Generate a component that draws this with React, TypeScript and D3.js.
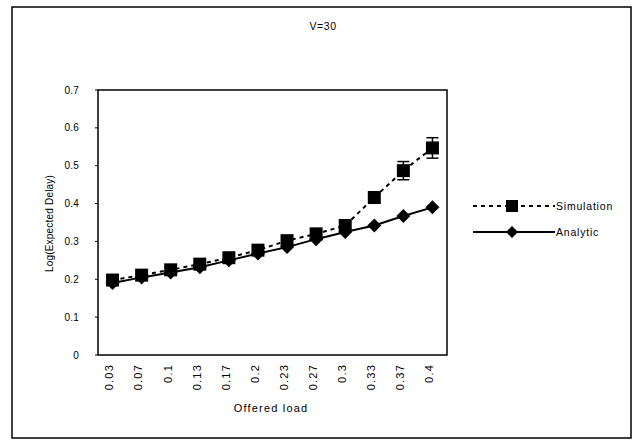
import React from "react";
import * as d3 from "d3";

const categories = ["0.03", "0.07", "0.1", "0.13", "0.17", "0.2", "0.23", "0.27", "0.3", "0.33", "0.37", "0.4"];
const simulation = [0.198, 0.211, 0.225, 0.24, 0.257, 0.277, 0.302, 0.32, 0.342, 0.416, 0.487, 0.547];
const simulationErr = [0.005, 0.005, 0.005, 0.006, 0.006, 0.007, 0.008, 0.008, 0.01, 0.015, 0.024, 0.027];
const analytic = [0.19, 0.205, 0.218, 0.232, 0.25, 0.268, 0.285, 0.306, 0.325, 0.342, 0.367, 0.39];
const yTicks = [0, 0.1, 0.2, 0.3, 0.4, 0.5, 0.6, 0.7];

const W = 636, H = 444;
const plot = { left: 98, right: 447, top: 90, bottom: 355 };
const FONT = "'Liberation Sans', Arial, sans-serif";

export default function App() {
  const x = d3.scaleBand<string>().domain(categories).range([plot.left, plot.right]);
  const y = d3.scaleLinear().domain([0, 0.7]).range([plot.bottom, plot.top]);
  const cx = (c: string) => (x(c) as number) + x.bandwidth() / 2;
  const line = d3.line<number>().x((_, i) => cx(categories[i])).y((d) => y(d));
  const sq = 13;
  const dm = 7;
  const diamond = (px: number, py: number) =>
    `M${px},${py - dm}L${px + dm},${py}L${px},${py + dm}L${px - dm},${py}Z`;

  return (
    <svg width={W} height={H} style={{ position: "absolute", left: 0, top: 0, background: "#fff" }} fontFamily={FONT}>
      <rect x={0} y={0} width={W} height={H} fill="#fff" />
      <rect x={12} y={7} width={619} height={431} fill="none" stroke="#000" strokeWidth={1.5} />
      <text x={323} y={30} textAnchor="middle" fontSize={10.5} letterSpacing={0.6}>V=30</text>

      {/* plot frame */}
      <rect x={plot.left} y={plot.top} width={plot.right - plot.left} height={plot.bottom - plot.top} fill="none" stroke="#000" strokeWidth={1.5} />

      {/* y ticks */}
      {yTicks.map((t) => (
        <g key={t}>
          <line x1={plot.left - 3} x2={plot.left} y1={y(t)} y2={y(t)} stroke="#000" strokeWidth={1} />
          <text x={79} y={y(t)} dy="0.35em" textAnchor="end" fontSize={10} letterSpacing={0.2}>{t === 0 ? "0" : String(t)}</text>
        </g>
      ))}
      <text transform={`translate(49,${(plot.top + plot.bottom) / 2 + 1}) rotate(-90)`} textAnchor="middle" dy="0.35em" fontSize={10} letterSpacing={0.2}>
        Log(Expected Delay)
      </text>

      {/* x labels */}
      {categories.map((c) => (
        <text key={c} transform={`translate(${cx(c) - 3},${plot.bottom + 9}) rotate(-90)`} textAnchor="end" dy="0.35em" fontSize={11} letterSpacing={1.2}>
          {c}
        </text>
      ))}
      <text x={271} y={412} textAnchor="middle" fontSize={11} letterSpacing={1.2}>Offered load</text>

      {/* analytic */}
      <path d={line(analytic) as string} fill="none" stroke="#000" strokeWidth={2} />
      {analytic.map((v, i) => (
        <path key={i} d={diamond(cx(categories[i]), y(v))} fill="#000" />
      ))}

      {/* simulation */}
      <path d={line(simulation) as string} fill="none" stroke="#000" strokeWidth={2} strokeDasharray="4,4" />
      {simulation.map((v, i) => {
        const px = cx(categories[i]);
        const e = simulationErr[i];
        return (
          <g key={i}>
            <line x1={px} x2={px} y1={y(v + e)} y2={y(v - e)} stroke="#000" strokeWidth={1.5} />
            <line x1={px - 6} x2={px + 6} y1={y(v + e)} y2={y(v + e)} stroke="#000" strokeWidth={1.5} />
            <line x1={px - 6} x2={px + 6} y1={y(v - e)} y2={y(v - e)} stroke="#000" strokeWidth={1.5} />
            <rect x={px - sq / 2} y={y(v) - sq / 2} width={sq} height={sq} fill="#000" />
          </g>
        );
      })}

      {/* legend */}
      <line x1={473} x2={555} y1={206} y2={206} stroke="#000" strokeWidth={2} strokeDasharray="4,4" />
      <rect x={512 - 6} y={206 - 6} width={12} height={12} fill="#000" />
      <text x={556} y={206} dy="0.35em" fontSize={10.5} letterSpacing={0.8}>Simulation</text>
      <line x1={473} x2={555} y1={232} y2={232} stroke="#000" strokeWidth={2} />
      <path d={`M512,226L518,232L512,238L506,232Z`} fill="#000" />
      <text x={556} y={232} dy="0.35em" fontSize={10.5} letterSpacing={0.8}>Analytic</text>
    </svg>
  );
}
